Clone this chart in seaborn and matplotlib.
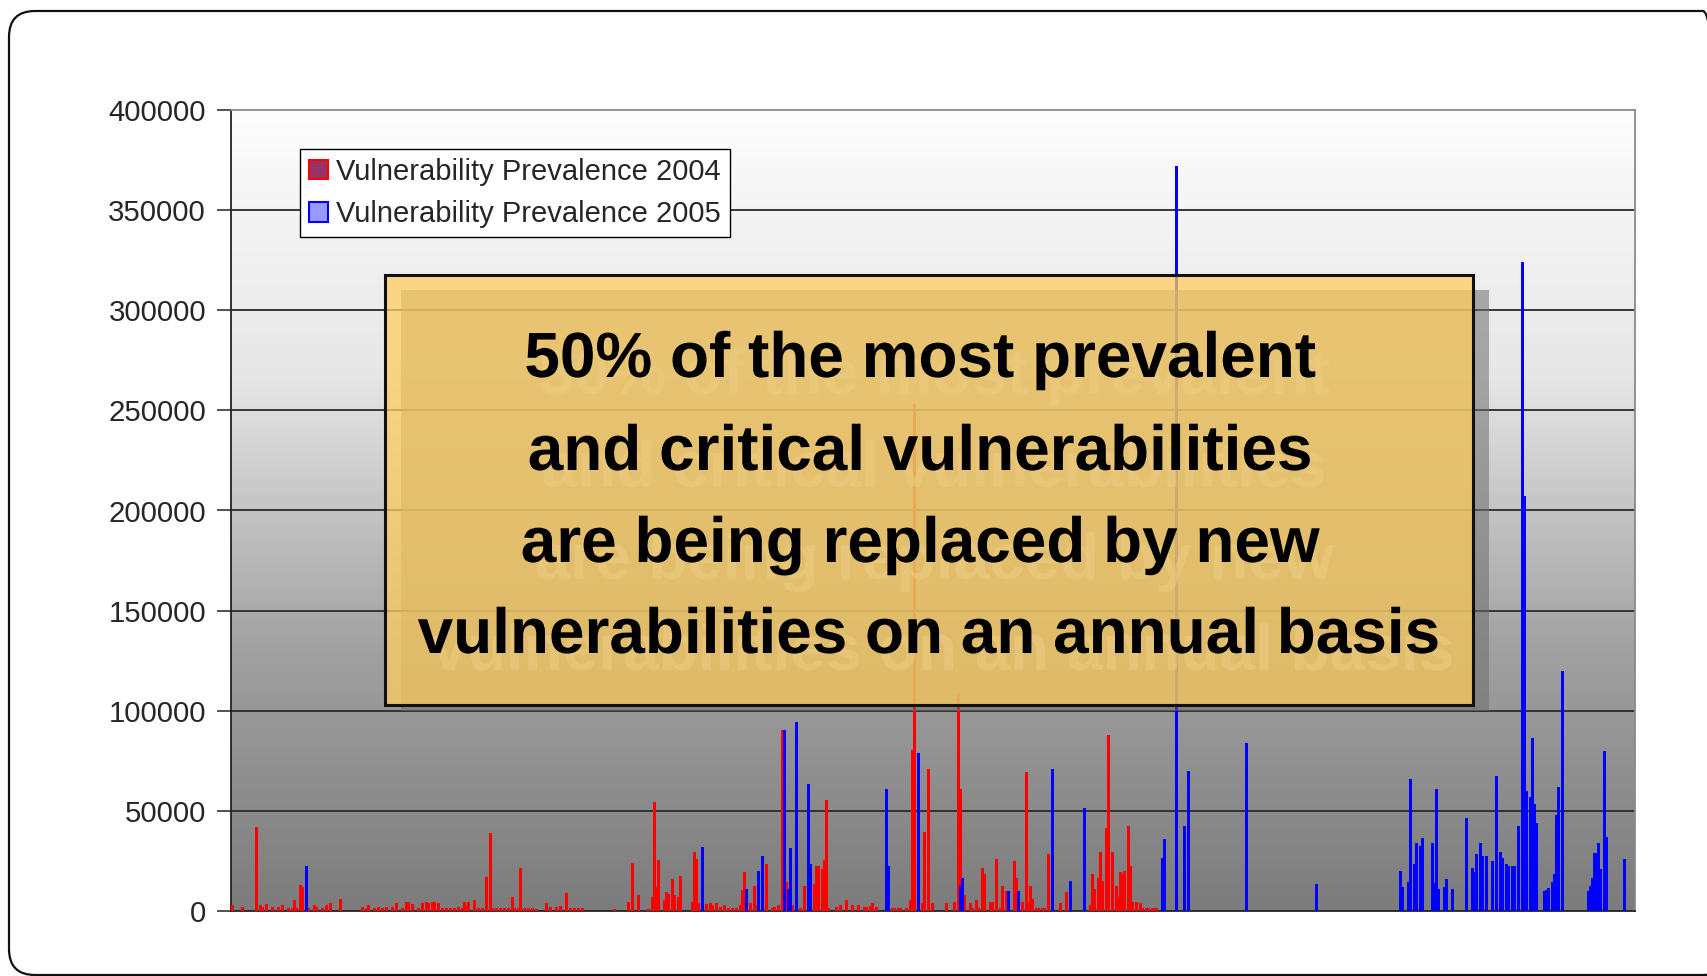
import numpy as np
import pandas as pd
import matplotlib
matplotlib.use("Agg")
import matplotlib.pyplot as plt
import matplotlib.patheffects as pe
from matplotlib.patches import Patch, Rectangle, FancyBboxPatch
from matplotlib.colors import LinearSegmentedColormap
from matplotlib.transforms import IdentityTransform
import seaborn as sns

W, H = 1707, 976
N_VULNS = 702

# vulnerability index along the x axis and its prevalence, per year
idx_2004 = [0, 5, 12, 14, 15, 17, 20, 23, 25, 28, 30, 31, 32, 34, 35, 38, 41, 42, 45, 47,
            49, 54, 65, 67, 68, 71, 73, 75, 77, 80, 82, 85, 87, 88, 90, 93, 95, 97, 98, 100,
            101, 103, 105, 107, 109, 111, 113, 115, 116, 117, 118, 121, 123, 125, 127, 129, 130, 132, 134, 136,
            138, 140, 141, 143, 144, 146, 148, 150, 152, 157, 159, 162, 164, 167, 169, 171, 173, 175,
            191, 198, 200, 203, 208, 210, 211, 212, 213, 216, 217, 218, 220, 221, 223, 224, 230, 231, 232, 233,
            237, 239, 240, 242, 244, 246, 248, 250, 252, 254, 255, 256, 259, 261, 262, 267, 270, 271, 273, 275,
            277, 280, 284, 286, 291, 292, 293, 295, 296, 297, 298, 302, 304, 307, 310, 313, 316, 317, 319, 320,
            322, 330, 331, 333, 334, 337, 339, 340, 341, 345, 346, 348, 350, 357, 361, 363, 364, 366, 369, 370,
            372, 373, 375, 376, 379, 380, 382, 384, 385, 387, 391, 392, 395, 397, 398, 399, 400, 402, 403, 405,
            406, 408, 414, 417, 426, 429, 430, 431, 433, 434, 435, 437, 438, 440, 442, 443, 444, 445, 446, 448,
            449, 450, 452, 454, 455, 457, 458, 460, 461, 462]
val_2004 = [3000, 2000, 42000, 3000, 2000, 3500, 2000, 2000, 3000, 1500, 1500, 5500, 1500, 12800, 12000, 1500, 3000, 2000, 1500, 3000,
            4000, 6000, 2000, 1500, 3000, 1500, 2000, 1500, 2000, 2000, 4000, 1500, 4500, 4500, 3500, 1500, 4000, 4500, 4000, 4500,
            4500, 4000, 1500, 1500, 1500, 1500, 2000, 1500, 4500, 3000, 4500, 5500, 1500, 1500, 16800, 38800, 1500, 1500, 1500, 1500,
            1500, 7000, 1500, 1500, 21700, 1500, 1500, 1500, 1000, 4000, 2000, 2000, 2500, 8800, 1500, 1500, 1500, 1500,
            1000, 4500, 24000, 7800, 1000, 6800, 54300, 11800, 25500, 5500, 9300, 8500, 15800, 7800, 6800, 17500, 4300, 29700, 25800, 4000,
            3500, 4000, 3000, 4000, 2000, 3000, 1500, 1500, 1500, 3000, 10500, 19300, 4000, 12700, 3000, 23500, 1500, 2000, 3000, 90300,
            14300, 3000, 1500, 12700, 13500, 22500, 22500, 20800, 25500, 55300, 1500, 2000, 3000, 5500, 3000, 3000, 2000, 2000, 2500, 4000,
            2000, 1500, 1500, 1500, 1500, 1500, 5500, 80500, 253000, 4000, 39700, 70800, 4000, 4000, 4500, 109000, 60800, 7800, 4000, 1500,
            5500, 1500, 21700, 18500, 4500, 4500, 25800, 1500, 12700, 10000, 25000, 16700, 4500, 69200, 4500, 12700, 5800, 1500, 1500, 1500,
            1500, 28300, 3800, 9300, 12000, 3000, 18500, 11000, 16700, 29700, 15000, 41300, 88000, 29700, 12700, 7200, 19300, 18500, 20000, 42200,
            22500, 4500, 4500, 4000, 1500, 1500, 1500, 1500, 1500, 1500]

idx_2005 = [37, 235, 257, 263, 265, 276, 278, 279, 282, 288, 289, 327, 328, 343, 364, 365, 388, 393, 410, 419,
            426, 465, 466, 472, 476, 478, 507, 542, 584, 585, 588, 589, 591, 592, 594, 595, 600, 601, 602, 603,
            606, 607, 610, 617, 620, 621, 622, 624, 625, 627, 630, 632, 634, 635, 637, 638, 640, 641, 643, 645,
            646, 647, 649, 650, 651, 652, 656, 657, 658, 660, 661, 662, 663, 665, 678, 679, 680, 681, 682, 683,
            684, 686, 687, 696]
val_2005 = [22500, 32200, 11000, 20000, 27500, 90300, 11000, 31500, 94200, 63300, 23300, 60800, 22500, 78800, 12700, 16700, 10200, 10200, 70800, 15200,
            51200, 26700, 35800, 372000, 42200, 70000, 83800, 13500, 20000, 11800, 14700, 65800, 23500, 33800, 32500, 36300, 33800, 14200, 60800, 11000,
            11800, 15800, 11000, 46200, 21700, 19300, 28300, 33800, 27500, 27500, 25000, 67500, 29700, 26700, 23300, 22500, 22500, 22500, 42200, 324000,
            207000, 60000, 56700, 86300, 53300, 43800, 10200, 10500, 11300, 14300, 18500, 48000, 61700, 120000, 10200, 12700, 16700, 28800, 28800, 33800,
            20800, 79700, 37200, 25800]

y_ticks = [0, 50000, 100000, 150000, 200000, 250000, 300000, 350000, 400000]
legend_labels = ["Vulnerability Prevalence 2004", "Vulnerability Prevalence 2005"]
callout_lines = ["50% of the most prevalent ",
                 "and critical vulnerabilities ",
                 "are being replaced by new ",
                 "vulnerabilities on an annual basis"]


def fx(px):
    return px / W


def fy(py):
    return 1 - py / H


def build_frame():
    df04 = pd.DataFrame({"vuln": idx_2004, "count": val_2004, "year": "2004"})
    df05 = pd.DataFrame({"vuln": idx_2005, "count": val_2005, "year": "2005"})
    return pd.concat([df04, df05], ignore_index=True)


def draw_chart(fig, df):
    ax = fig.add_axes([fx(231), fy(911), fx(1404), 801 / H])
    ax.set_facecolor("none")

    # grey gradient behind the plot area
    grad = np.linspace(0, 1, 256).reshape(-1, 1)
    bg = LinearSegmentedColormap.from_list("bg", ["#fdfdfd", "#e6e6e6", "#a2a2a2", "#7c7c7c"])
    ax.imshow(grad, extent=[-0.5, N_VULNS - 0.5, 0, 400000], aspect="auto",
              cmap=bg, origin="upper", zorder=0)

    for y in y_ticks[1:-1]:
        ax.axhline(y, color="#2a2a2a", lw=1.3, zorder=1)

    sns.barplot(data=df, x="vuln", y="count", hue="year",
                palette={"2004": "#ff0000", "2005": "#0000ff"},
                native_scale=True, dodge=False, width=1.5, saturation=1,
                errorbar=None, linewidth=0, legend=False, ax=ax, zorder=3)

    ax.set_xlim(-0.5, N_VULNS - 0.5)
    ax.set_ylim(0, 400000)
    ax.set_xticks([])
    ax.set_yticks(y_ticks)
    ax.set_yticklabels([str(t) for t in y_ticks], fontsize=21.2)
    ax.tick_params(axis="y", length=10, width=1.2, color="#333333", pad=8)
    ax.set_xlabel("")
    ax.set_ylabel("")
    for side in ["left", "bottom"]:
        ax.spines[side].set_color("#222222")
        ax.spines[side].set_linewidth(1.3)
    for side in ["top", "right"]:
        ax.spines[side].set_visible(True)
        ax.spines[side].set_color("#8a8a8a")
        ax.spines[side].set_linewidth(1.3)

    handles = [Patch(facecolor="#993366", edgecolor="#ff0000", lw=1.5),
               Patch(facecolor="#9999ff", edgecolor="#0000ff", lw=1.5)]
    leg = fig.legend(handles, legend_labels, loc="upper left",
                     bbox_to_anchor=(fx(300), fy(149)), fontsize=21,
                     frameon=True, fancybox=False, framealpha=1,
                     edgecolor="black", borderpad=0.3, handlelength=0.65,
                     handleheight=0.65, handletextpad=0.3, labelspacing=0.5,
                     borderaxespad=0)
    leg.get_frame().set_linewidth(1.0)
    return ax


def draw_callout(fig):
    shadow = Rectangle((fx(401), fy(711)), fx(1088), 421 / H, transform=fig.transFigure,
                       facecolor="#6e6e6e", edgecolor="none", alpha=0.55, zorder=5)
    box = Rectangle((fx(385), fy(705)), fx(1088), 430 / H, transform=fig.transFigure,
                    facecolor="#ffcf61", edgecolor="none", alpha=0.75, zorder=6)
    frame = Rectangle((fx(385), fy(705)), fx(1088), 430 / H, transform=fig.transFigure,
                      facecolor="none", edgecolor="#111111", lw=2.2, zorder=7)
    fig.patches.extend([shadow, box, frame])

    # faint offset copy of the lettering, like the slide's text shadow
    ghost = [pe.withSimplePatchShadow(offset=(10, -12), shadow_rgbFace="#eccb82", alpha=0.6)]
    baselines = [377, 470, 562, 653]
    for line, base in zip(callout_lines, baselines):
        fig.text(fx(929), fy(base), line, ha="center", va="baseline",
                 fontsize=46, fontweight="bold", color="black", zorder=9,
                 path_effects=ghost)


def draw_border(fig):
    border = FancyBboxPatch((9, 1), 1720, H - 12, boxstyle="round,pad=0,rounding_size=26",
                            transform=IdentityTransform(), facecolor="none",
                            edgecolor="#111111", lw=1.6, zorder=10)
    fig.patches.append(border)


def main():
    sns.set_style("ticks")
    plt.rcParams["font.family"] = ["Liberation Sans", "DejaVu Sans"]
    fig = plt.figure(figsize=(W / 100, H / 100), dpi=100)
    fig.patch.set_facecolor("white")
    df = build_frame()
    draw_chart(fig, df)
    draw_callout(fig)
    draw_border(fig)
    fig.savefig("out.png", dpi=100)


if __name__ == "__main__":
    main()
